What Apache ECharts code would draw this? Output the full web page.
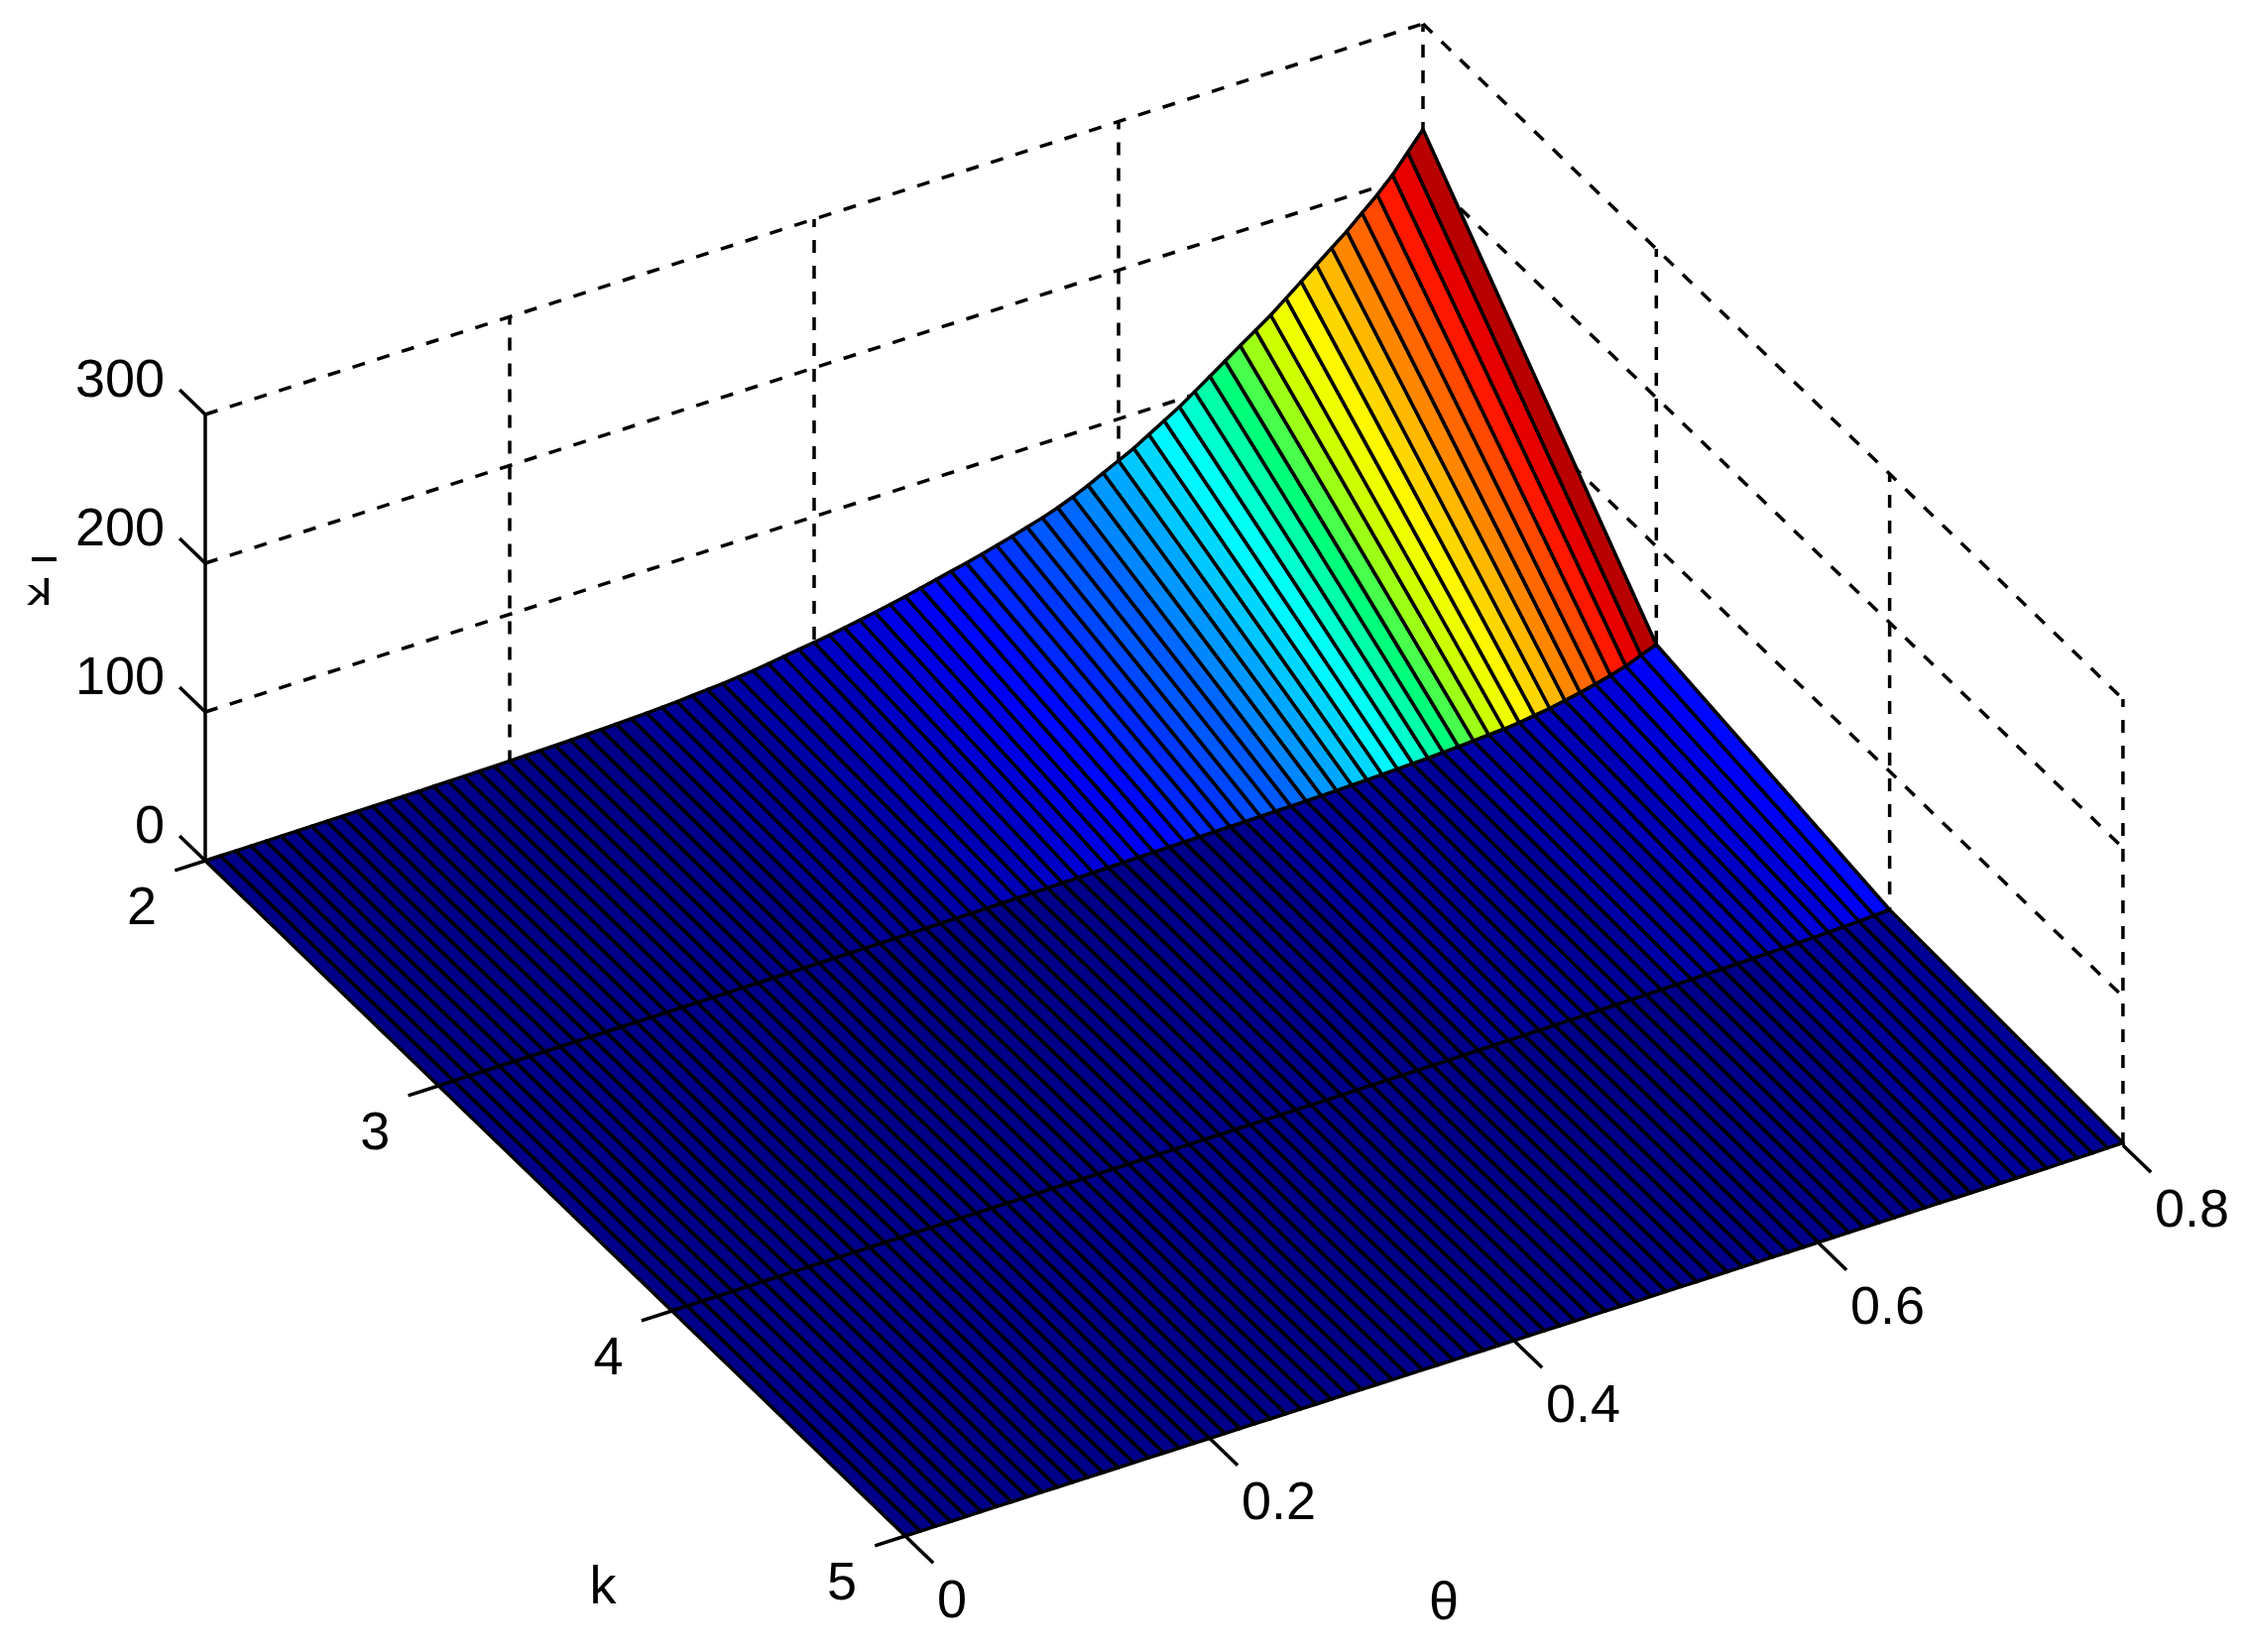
<!DOCTYPE html>
<html><head><meta charset="utf-8">
<style>html,body{margin:0;padding:0;background:#fff}#c{width:2269px;height:1666px}</style>
<script src="https://cdn.jsdelivr.net/npm/echarts@6/dist/echarts.min.js"></script>
</head><body><div id="c"></div>
<script>
const thetaValues = [0,0.01,0.02,0.03,0.04,0.05,0.06,0.07,0.08,0.09,0.1,0.11,0.12,0.13,0.14,0.15,0.16,0.17,0.18,0.19,0.2,0.21,0.22,0.23,0.24,0.25,0.26,0.27,0.28,0.29,0.3,0.31,0.32,0.33,0.34,0.35,0.36,0.37,0.38,0.39,0.4,0.41,0.42,0.43,0.44,0.45,0.46,0.47,0.48,0.49,0.5,0.51,0.52,0.53,0.54,0.55,0.56,0.57,0.58,0.59,0.6,0.61,0.62,0.63,0.64,0.65,0.66,0.67,0.68,0.69,0.7,0.71,0.72,0.73,0.74,0.75,0.76,0.77,0.78,0.79,0.8];
const kValues = [2,3,4,5];
const zAtK2 = [0,0.03,0.05,0.08,0.11,0.14,0.18,0.22,0.27,0.32,0.37,0.43,0.5,0.55,0.65,0.75,0.85,0.95,1.1,1.2,1.4,1.6,1.8,2,2.3,2.6,2.9,3.2,3.6,4.1,4.6,5.2,6,6.8,7.5,8.5,9.5,11,12.5,14,15.5,17,18.8,20.6,22.5,24.5,26.6,29,31.3,33.7,36,38.6,41.2,44,47,50,53.5,57.5,62,67,72,77,83,89,95,102,109,116,123,130,137,145,153,161,169,177,186,195,205,217,229];
const zAtK3 = [0,0,0.01,0.01,0.02,0.02,0.03,0.03,0.04,0.05,0.06,0.07,0.08,0.09,0.1,0.11,0.12,0.14,0.16,0.18,0.2,0.22,0.25,0.28,0.31,0.35,0.39,0.43,0.48,0.53,0.6,0.66,0.73,0.8,0.9,1,1.1,1.2,1.3,1.45,1.6,1.75,1.9,2.05,2.2,2.4,2.55,2.7,2.85,3,3.15,3.3,3.45,3.6,3.75,3.9,4.1,4.3,4.5,4.7,5,5.3,5.6,6,6.4,6.9,7.4,8,8.6,9.3,10,11,12.5,14,16,18,20.5,23,26,30,34];
const zAtK4 = [0,0,0,0,0,0.01,0.01,0.01,0.01,0.01,0.02,0.02,0.02,0.03,0.03,0.03,0.04,0.04,0.05,0.05,0.06,0.07,0.08,0.09,0.1,0.11,0.12,0.13,0.15,0.17,0.18,0.2,0.22,0.24,0.26,0.28,0.3,0.33,0.36,0.39,0.42,0.46,0.5,0.54,0.58,0.63,0.68,0.73,0.78,0.84,0.9,0.97,1.05,1.13,1.2,1.3,1.4,1.5,1.6,1.7,1.8,1.95,2.1,2.25,2.4,2.55,2.7,2.9,3.1,3.3,3.5,3.7,3.9,4.1,4.4,4.7,5,5.4,5.8,6.3,7];
const zAtK5 = [0,0,0,0,0,0,0,0,0,0,0,0,0.01,0.01,0.01,0.01,0.01,0.01,0.01,0.01,0.02,0.02,0.02,0.02,0.03,0.03,0.03,0.03,0.04,0.04,0.05,0.05,0.06,0.06,0.07,0.07,0.08,0.08,0.09,0.1,0.11,0.12,0.13,0.14,0.15,0.16,0.17,0.19,0.2,0.22,0.24,0.26,0.28,0.3,0.32,0.34,0.36,0.38,0.41,0.44,0.47,0.5,0.53,0.56,0.6,0.64,0.68,0.72,0.76,0.8,0.85,0.9,0.95,1,1.05,1.1,1.2,1.3,1.4,1.5,1.6];
const zRows = [zAtK2, zAtK3, zAtK4, zAtK5];
const zTicks = [0,100,200,300];
const kTicks = [2,3,4,5];
const thetaTicks = [0,0.2,0.4,0.6,0.8];
const thetaTickLabels = ['0','0.2','0.4','0.6','0.8'];
const axisTitleK = 'k';
const axisTitleTheta = 'θ';

// colour table: [fraction of zMax, r, g, b]
const colormapStops = [[0,0,0,128],[0.125,0,0,255],[0.375,0,255,255],[0.42,0,255,200],[0.46,0,255,150],[0.49,0,255,100],[0.52,120,255,60],[0.55,180,255,0],[0.59,230,255,0],[0.625,255,255,0],[0.875,255,0,0],[1,128,0,0]];

// oblique view of the (theta, k, z) box, in plane units of the hidden x/y axes
const view = {ox:207, oy:868, tx:1535, ty:-492.5, kx:235.3, ky:227, zy:-1.5};
function plane(theta,k,z){
  return [view.ox+theta*view.tx+(k-2)*view.kx, view.oy+theta*view.ty+(k-2)*view.ky+z*view.zy];
}
const zMax = 229;
function jet(v){
  const i=Math.min(63,Math.max(0,Math.floor(v/zMax*64)));
  const f=(i+0.5)/64;
  let s=0;
  while(s<colormapStops.length-2 && f>colormapStops[s+1][0]) s++;
  const a=colormapStops[s], b=colormapStops[s+1], t=(f-a[0])/(b[0]-a[0]);
  const c=n=>Math.round(a[n]+(b[n]-a[n])*t);
  return 'rgb('+c(1)+','+c(2)+','+c(3)+')';
}
const FONT='"Liberation Sans",Arial,sans-serif', FS=54;

const cells=[];
for(let r=0;r<zRows.length-1;r++) for(let i=0;i<thetaValues.length-1;i++){
  cells.push([thetaValues[i],thetaValues[i+1],kValues[r],kValues[r+1],zRows[r][i],zRows[r][i+1],zRows[r+1][i+1],zRows[r+1][i]]);
}
function seg(api,a,b,style){
  const p=api.coord(a), q=api.coord(b);
  return {type:'line',shape:{x1:p[0],y1:p[1],x2:q[0],y2:q[1]},style:Object.assign({stroke:'#000',fill:null},style)};
}
const DASH={lineWidth:3.5,lineDash:[13,13]}, SOLID={lineWidth:3.5};
const wallLines=[];
const zTop=zTicks[zTicks.length-1], tMax=thetaTicks[thetaTicks.length-1];
zTicks.slice(1).forEach(z=>{
  wallLines.push([0,2,z,tMax,2,z]);
  wallLines.push([tMax,2,z,tMax,5,z]);
});
thetaTicks.slice(1).forEach(t=>wallLines.push([t,2,0,t,2,zTop]));
kTicks.slice(1).forEach(k=>wallLines.push([tMax,k,0,tMax,k,zTop]));

const tickLines=[];
zTicks.forEach(z=>tickLines.push([0,2,z,0,1.89,z]));
kTicks.forEach(k=>tickLines.push([0,k,0,-0.02,k,0]));
thetaTicks.forEach(t=>tickLines.push([t,5,0,t,5.12,0]));
tickLines.push([0,2,0,0,2,zTop]);

const labels=[];
zTicks.forEach(z=>{const p=plane(0,2,z);labels.push([p[0]-41,p[1]-33,String(z),'right']);});
kTicks.forEach(k=>{const p=plane(0,k,0);labels.push([p[0]-64,p[1]+49,String(k),'center']);});
thetaTicks.forEach((t,i)=>{const p=plane(t,5,0);labels.push([p[0]+32,p[1]+67,thetaTickLabels[i],'left']);});
labels.push([608,1602,axisTitleK,'center']);
labels.push([1456,1618,axisTitleTheta,'center']);

const chart=echarts.init(document.getElementById('c'),null,{renderer:'canvas'});
chart.setOption({
  animation:false,backgroundColor:'#fff',
  grid:{left:0,right:0,top:0,bottom:0},
  xAxis:{type:'value',min:0,max:2269,show:false},
  yAxis:{type:'value',min:0,max:1666,inverse:true,show:false},
  series:[
    {type:'custom',name:'walls',silent:true,clip:false,progressive:0,data:wallLines,
     renderItem:(p,api)=>{const d=wallLines[p.dataIndex];
       return seg(api,plane(d[0],d[1],d[2]),plane(d[3],d[4],d[5]),DASH);}},
    {type:'custom',name:'surface',silent:true,clip:false,progressive:0,data:cells,
     renderItem:(p,api)=>{const c=cells[p.dataIndex];
       const pts=[plane(c[0],c[2],c[4]),plane(c[1],c[2],c[5]),plane(c[1],c[3],c[6]),plane(c[0],c[3],c[7])].map(q=>api.coord(q));
       return {type:'polygon',shape:{points:pts},style:{fill:jet(c[4]),stroke:'#000',lineWidth:3.5,lineJoin:'round'}};}},
    {type:'custom',name:'ticks',silent:true,clip:false,progressive:0,data:tickLines,
     renderItem:(p,api)=>{const d=tickLines[p.dataIndex];
       return seg(api,plane(d[0],d[1],d[2]),plane(d[3],d[4],d[5]),SOLID);}},
    {type:'custom',name:'labels',silent:true,clip:false,progressive:0,data:labels,
     renderItem:(p,api)=>{const d=labels[p.dataIndex];const q=api.coord([d[0],d[1]]);
       return {type:'text',x:q[0],y:q[1],style:{text:d[2],fill:'#000',font:FS+'px '+FONT,align:d[3],verticalAlign:'middle'}};}},
    {type:'custom',name:'zTitle',silent:true,clip:false,data:[[40,600]],
     renderItem:(p,api)=>{const q=api.coord([40,600]);const b=api.coord([44,564]);
       return {type:'group',children:[
         {type:'text',x:q[0],y:q[1],scaleX:-1.4,style:{text:axisTitleK,fill:'#000',font:'36px '+FONT,align:'center',verticalAlign:'middle'}},
         {type:'line',shape:{x1:b[0]-12,y1:b[1],x2:b[0]+13,y2:b[1]},style:{stroke:'#000',lineWidth:4}}
       ]};}}
  ]
});
</script></body></html>
